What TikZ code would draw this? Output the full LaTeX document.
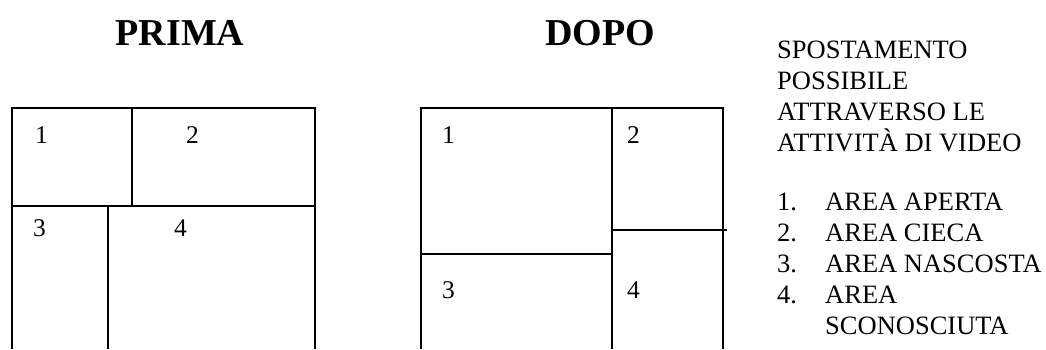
\documentclass[tikz,border=0pt]{standalone}
\usepackage{fontspec}
\setmainfont{Liberation Serif}
\usetikzlibrary{positioning}
\tikzset{
    % Texts
    title/.style  = {font=\fontsize{38}{44}\selectfont\bfseries, inner sep=0pt, anchor=base},
    cell/.style   = {font=\fontsize{25.5}{30}\selectfont, inner sep=0pt, anchor=base west},
    legend/.style = {font=\fontsize{26.5}{31}\selectfont, inner sep=0pt, anchor=base west},
    % Walls of the window
    wall/.style   = {line width=1.5pt}
}
\begin{document}
\begin{tikzpicture}[x=1pt, y=-1pt]
    \useasboundingbox (0,0) rectangle (1046,349);

    % Before
    \node (prima) [title] at (180,45) {PRIMA};
    \draw [wall] (12,349) -- (12,108) -- (315,108) -- (315,349);
    \draw [wall] (12,206) -- (315,206);
    \draw [wall] (132,108) -- (132,206);
    \draw [wall] (108,206) -- (108,349);
    \node (pA) [cell] at (35,143) {1};
    \node (pB) [cell] at (186,143) {2};
    \node (pC) [cell] at (33,236.5) {3};
    \node (pD) [cell] at (174,236.5) {4};

    % After
    \node (dopo) [title] at (600,45) {DOPO};
    \draw [wall] (421,349) -- (421,108) -- (723,108) -- (723,349);
    \draw [wall] (612,108) -- (612,349);
    \draw [wall] (421,254) -- (611,254);
    \draw [wall] (612,230) -- (727,230);
    \node (dA) [cell] at (442,143) {1};
    \node (dB) [cell] at (627,143) {2};
    \node (dC) [cell] at (442,298.5) {3};
    \node (dD) [cell] at (627,298.5) {4};

    % Legend
    \node (head1) [legend] at (777,58.5) {SPOSTAMENTO};
    \node (head2) [legend] at (777,89.5) {POSSIBILE};
    \node (head3) [legend] at (777,120.5) {ATTRAVERSO LE};
    \node (head4) [legend] at (777,151.5) {ATTIVITÀ DI VIDEO};

    \node (n1) [legend] at (777,210.5) {1.};
    \node (n2) [legend] at (777,241.5) {2.};
    \node (n3) [legend] at (777,272.5) {3.};
    \node (n4) [legend] at (777,303.5) {4.};
    \node (item1) [legend] at (825,210.5) {AREA APERTA};
    \node (item2) [legend] at (825,241.5) {AREA CIECA};
    \node (item3) [legend] at (825,272.5) {AREA NASCOSTA};
    \node (item4) [legend] at (825,303.5) {AREA};
    \node (item4b) [legend] at (825,334.5) {SCONOSCIUTA};
\end{tikzpicture}
\end{document}
